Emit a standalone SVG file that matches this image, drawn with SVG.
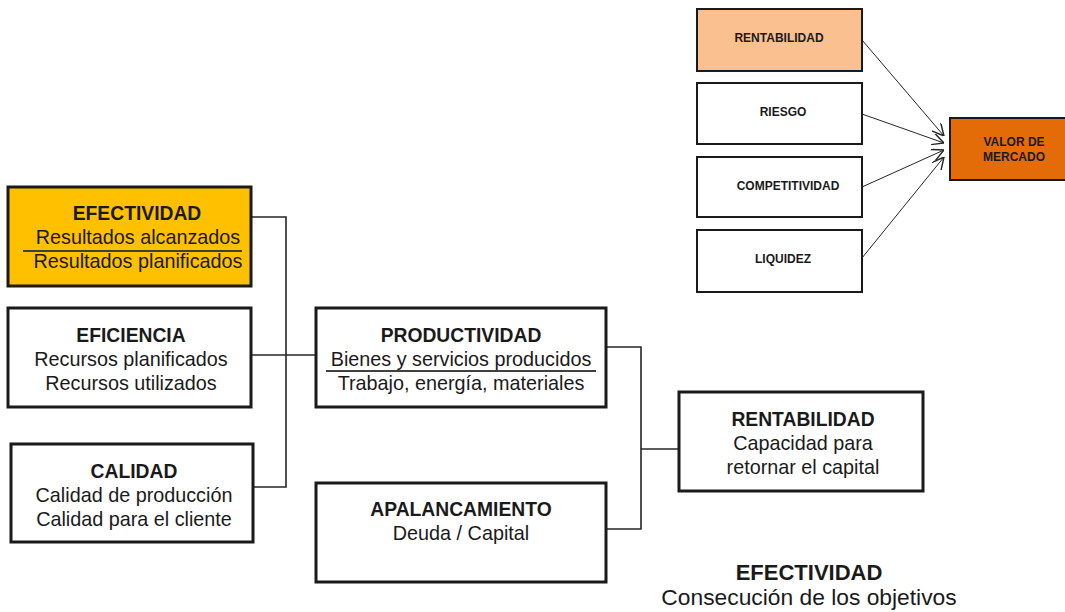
<svg xmlns="http://www.w3.org/2000/svg" width="1065" height="612" viewBox="0 0 1065 612">
  <style>
    .box { fill: #ffffff; stroke: #1a1a1a; stroke-width: 3; }
    .sbox { fill: #ffffff; stroke: #1a1a1a; stroke-width: 2; }
    .t { font-family: "Liberation Sans", Arial, sans-serif; fill: #1a1a1a; text-anchor: middle; }
    .h { font-size: 19.3px; font-weight: bold; }
    .r { font-size: 19.8px; }
    .s { font-size: 12px; font-weight: bold; }
    .conn { fill: none; stroke: #262626; stroke-width: 1.6; }
    .arr { fill: none; stroke: #262626; stroke-width: 1; marker-end: url(#open); }
    .rule { stroke: #404040; stroke-width: 1.8; }
  </style>
  <defs>
    <marker id="open" viewBox="0 0 10 10" refX="10" refY="5" markerWidth="12" markerHeight="12" markerUnits="userSpaceOnUse" orient="auto">
      <path d="M0,0 L10,5 L0,10" fill="none" stroke="#262626" stroke-width="1.2"/>
    </marker>
  </defs>

  <rect width="1065" height="612" fill="#ffffff"/>

  <!-- connectors -->
  <g id="connectors">
    <polyline class="conn" points="251,217 286,217 286,487 253,487"/>
    <line class="conn" x1="251" y1="355" x2="316" y2="355"/>
    <polyline class="conn" points="606,347 641,347 641,529 606,529"/>
    <line class="conn" x1="641" y1="449" x2="679" y2="449"/>
    <line class="arr" x1="862" y1="40" x2="944" y2="136"/>
    <line class="arr" x1="862" y1="114" x2="944" y2="143"/>
    <line class="arr" x1="862" y1="187" x2="944" y2="150"/>
    <line class="arr" x1="862" y1="258" x2="944" y2="157"/>
  </g>

  <!-- left column -->
  <g id="efectividad">
    <rect x="8" y="187" width="243" height="99" class="box" style="fill:#ffc000"/>
    <text class="t h" x="137" y="220">EFECTIVIDAD</text>
    <text class="t r" x="138" y="244">Resultados alcanzados</text>
    <line class="rule" x1="23" y1="251" x2="242" y2="251"/>
    <text class="t r" x="138" y="268">Resultados planificados</text>
  </g>

  <g id="eficiencia">
    <rect x="8" y="308" width="243" height="99" class="box"/>
    <text class="t h" x="131" y="342">EFICIENCIA</text>
    <text class="t r" x="131" y="366">Recursos planificados</text>
    <text class="t r" x="131" y="390">Recursos utilizados</text>
  </g>

  <g id="calidad">
    <rect x="11" y="444" width="242" height="98" class="box"/>
    <text class="t h" x="134" y="478">CALIDAD</text>
    <text class="t r" x="134" y="502">Calidad de producción</text>
    <text class="t r" x="134" y="526">Calidad para el cliente</text>
  </g>

  <!-- middle column -->
  <g id="productividad">
    <rect x="316" y="308" width="290" height="99" class="box"/>
    <text class="t h" x="461" y="342">PRODUCTIVIDAD</text>
    <text class="t r" x="461" y="366">Bienes y servicios producidos</text>
    <line class="rule" x1="326" y1="371" x2="596" y2="371"/>
    <text class="t r" x="461" y="390">Trabajo, energía, materiales</text>
  </g>

  <g id="apalancamiento">
    <rect x="316" y="483" width="290" height="99" class="box"/>
    <text class="t h" x="461" y="516">APALANCAMIENTO</text>
    <text class="t r" x="461" y="540">Deuda / Capital</text>
  </g>

  <!-- right column -->
  <g id="rentabilidad">
    <rect x="679" y="392" width="244" height="99" class="box"/>
    <text class="t h" x="803" y="426">RENTABILIDAD</text>
    <text class="t r" x="803" y="450">Capacidad para</text>
    <text class="t r" x="803" y="474">retornar el capital</text>
  </g>

  <g id="efectividad-objetivos">
    <text class="t" x="809" y="580" style="font-size:22px;font-weight:bold">EFECTIVIDAD</text>
    <text class="t" x="809" y="605" style="font-size:22.8px">Consecución de los objetivos</text>
  </g>

  <!-- market value drivers -->
  <g id="rentabilidad-top">
    <rect x="697" y="9" width="165" height="62" class="sbox" style="fill:#fac090"/>
    <text class="t s" x="779" y="42">RENTABILIDAD</text>
  </g>
  <g id="riesgo">
    <rect x="697" y="83" width="165" height="61" class="sbox"/>
    <text class="t s" x="783" y="116">RIESGO</text>
  </g>
  <g id="competitividad">
    <rect x="697" y="157" width="165" height="60" class="sbox"/>
    <text class="t s" x="788" y="190">COMPETITIVIDAD</text>
  </g>
  <g id="liquidez">
    <rect x="697" y="230" width="165" height="62" class="sbox"/>
    <text class="t s" x="783" y="263">LIQUIDEZ</text>
  </g>
  <g id="valor-mercado">
    <rect x="950" y="118" width="128" height="62" class="sbox" style="fill:#e36c09"/>
    <text class="t s" x="1014" y="146">VALOR DE</text>
    <text class="t s" x="1014" y="161">MERCADO</text>
  </g>
</svg>
